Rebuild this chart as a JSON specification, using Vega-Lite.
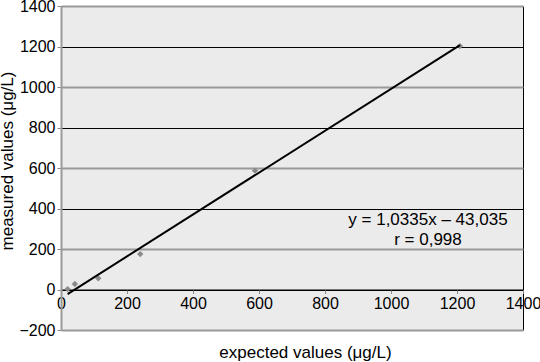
{
  "$schema": "https://vega.github.io/schema/vega-lite/v6.json",
  "width": 462,
  "height": 324,
  "autosize": {"type": "none"},
  "padding": {"left": 61, "top": 6, "right": 17, "bottom": 32},
  "background": "white",
  "config": {
    "view": {"fill": "#ebebeb", "stroke": null},
    "font": "Liberation Sans"
  },
  "layer": [
    {
      "data": {"values": [
        {"expected": 20, "measured": 2},
        {"expected": 42, "measured": 27},
        {"expected": 113, "measured": 55},
        {"expected": 240, "measured": 175},
        {"expected": 588, "measured": 587},
        {"expected": 1209, "measured": 1202}
      ]},
      "mark": {"type": "point", "shape": "diamond", "filled": true, "color": "#8a8a8a", "size": 40, "opacity": 1},
      "encoding": {
        "x": {
          "field": "expected", "type": "quantitative",
          "scale": {"domain": [0, 1400], "nice": false, "zero": false},
          "axis": {
            "title": "expected values (μg/L)",
            "values": [0, 200, 400, 600, 800, 1000, 1200, 1400],
            "format": "d",
            "offset": -40.5,
            "domainColor": "black",
            "tickColor": "#888",
            "tickSize": 4,
            "labelPadding": 2,
            "labelFontSize": 16,
            "labelColor": "black",
            "labelFlush": false,
            "labelOverlap": false,
            "titleFontSize": 17,
            "titleFontWeight": "normal",
            "titleColor": "black",
            "titleX": 244,
            "titleY": 67.5,
            "titleBaseline": "alphabetic",
            "titleAlign": "center",
            "grid": true,
            "gridColor": {"condition": {"test": "datum.value == 1400", "value": "black"}, "value": "#999"},
            "gridOpacity": {"condition": {"test": "datum.value == 1400", "value": 1}, "value": 0}
          }
        },
        "y": {
          "field": "measured", "type": "quantitative",
          "scale": {"domain": [-200, 1400], "nice": false, "zero": false},
          "axis": {
            "title": "measured values (μg/L)",
            "values": [-200, 0, 200, 400, 600, 800, 1000, 1200, 1400],
            "format": "d",
            "domainColor": "#999",
            "domainWidth": 2,
            "tickColor": "#888",
            "tickSize": 4,
            "labelPadding": 2,
            "labelFontSize": 16,
            "labelColor": "black",
            "labelFlush": false,
            "labelOverlap": false,
            "titleFontSize": 17,
            "titleFontWeight": "normal",
            "titleColor": "black",
            "titleX": -49,
            "titleY": 154.5,
            "titleBaseline": "alphabetic",
            "titleAlign": "center",
            "grid": true,
            "gridColor": {"condition": {"test": "datum.value % 400 == 0", "value": "black"}, "value": "#999"},
            "gridWidth": {"condition": {"test": "datum.value % 400 == 0", "value": 1}, "value": 2}
          }
        }
      }
    },
    {
      "data": {"values": [
        {"expected": 20, "measured": -22.4},
        {"expected": 1209, "measured": 1206.5}
      ]},
      "mark": {"type": "line", "color": "black", "strokeWidth": 2},
      "encoding": {
        "x": {"field": "expected", "type": "quantitative"},
        "y": {"field": "measured", "type": "quantitative"}
      }
    },
    {
      "data": {"values": [
        {"expected": 1112, "measured": 318.5, "label": "y = 1,0335x – 43,035"},
        {"expected": 1112, "measured": 220, "label": "r = 0,998"}
      ]},
      "mark": {"type": "text", "fontSize": 17, "align": "center", "baseline": "alphabetic", "color": "black"},
      "encoding": {
        "x": {"field": "expected", "type": "quantitative"},
        "y": {"field": "measured", "type": "quantitative"},
        "text": {"field": "label"}
      }
    }
  ]
}
